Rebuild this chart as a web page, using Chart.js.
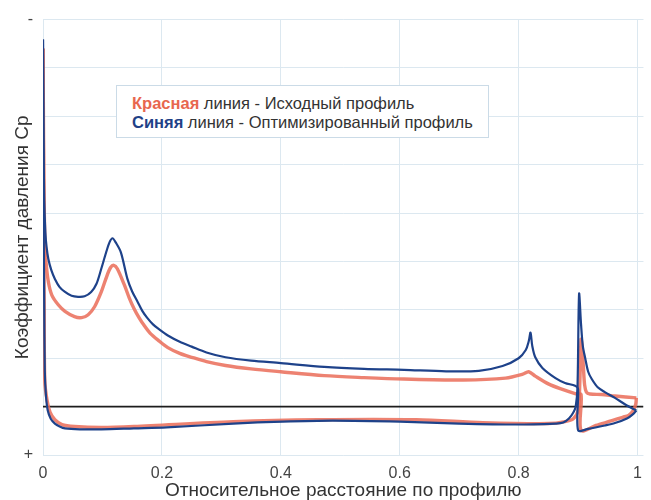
<!DOCTYPE html>
<html><head><meta charset="utf-8">
<script src="https://cdn.jsdelivr.net/npm/chart.js@4"></script>
<style>
html,body{margin:0;padding:0;background:#fff;overflow:hidden}
#wrap{position:relative;width:651px;height:500px}
#legend{position:absolute;left:116px;top:85px;width:373px;height:53px;border:1px solid #cbdbe7;background:#fff;box-sizing:border-box;font-family:"Liberation Sans",Arial,sans-serif;font-size:16.5px;line-height:19px;color:#333;padding:8px 0 0 15px;white-space:nowrap}
</style></head><body>
<div id="wrap"><canvas id="c" width="651" height="500"></canvas>
<div id="legend"><div><b style="color:#e8674f">Красная</b> линия - Исходный профиль</div><div><b style="color:#1f4187">Синяя</b> линия - Оптимизированный профиль</div></div></div>
<script>
const xTicks = [0, 0.2, 0.4, 0.6, 0.8, 1];
const xTitle = 'Относительное расстояние по профилю';
const yTitle = 'Коэффициент давления Cp';

// Blue (optimized) – upper branch
const blueUpperX  = [0, 0.001, 0.002, 0.004, 0.006, 0.009, 0.014, 0.020, 0.028, 0.037, 0.048, 0.059, 0.070, 0.081, 0.090, 0.098, 0.106, 0.112, 0.117, 0.122, 0.131, 0.142, 0.150, 0.159, 0.167, 0.175, 0.185, 0.195, 0.21, 0.23, 0.25, 0.275, 0.307, 0.35, 0.40, 0.473, 0.54, 0.607, 0.678, 0.733, 0.773, 0.80, 0.812, 0.817, 0.820, 0.823, 0.828, 0.84, 0.862, 0.878, 0.895, 0.90, 0.90, 0.917, 0.945, 0.962, 0.983, 0.993, 0.998];
const blueUpperCp = [-7.59, -5.5, -4.3, -3.6, -3.3, -3.05, -2.82, -2.64, -2.47, -2.37, -2.29, -2.27, -2.28, -2.37, -2.54, -2.85, -3.18, -3.40, -3.48, -3.40, -3.19, -2.64, -2.38, -2.17, -1.98, -1.84, -1.70, -1.60, -1.47, -1.34, -1.24, -1.12, -1.02, -0.95, -0.90, -0.82, -0.78, -0.76, -0.73, -0.74, -0.84, -1.00, -1.17, -1.35, -1.53, -1.25, -1.02, -0.80, -0.59, -0.49, -0.43, -0.37, 0.49, 0.46, 0.39, 0.34, 0.24, 0.15, 0.08];
// Blue – lower branch
const blueLowerX  = [0, 0.001, 0.002, 0.003, 0.005, 0.008, 0.013, 0.020, 0.028, 0.037, 0.062, 0.098, 0.153, 0.208, 0.32, 0.403, 0.487, 0.60, 0.70, 0.795, 0.862, 0.875, 0.885, 0.892, 0.896, 0.899, 0.9017, 0.905, 0.908, 0.912, 0.917, 0.923, 0.933, 0.945, 0.962, 0.98, 0.998];
const blueLowerCp = [-7.59, -4.2, -2.2, -0.74, -0.22, 0.08, 0.25, 0.35, 0.41, 0.45, 0.47, 0.47, 0.45, 0.43, 0.35, 0.31, 0.29, 0.31, 0.35, 0.37, 0.35, 0.33, 0.24, 0.12, 0.0, -0.4, -2.33, -1.7, -1.25, -1.0, -0.72, -0.57, -0.40, -0.30, -0.18, -0.04, 0.08];
// Red (original) – upper branch
const redUpperX  = [0, 0.001, 0.002, 0.003, 0.005, 0.009, 0.015, 0.026, 0.037, 0.053, 0.065, 0.076, 0.087, 0.098, 0.108, 0.114, 0.119, 0.125, 0.137, 0.145, 0.153, 0.162, 0.17, 0.18, 0.195, 0.21, 0.23, 0.25, 0.275, 0.307, 0.35, 0.40, 0.473, 0.54, 0.607, 0.707, 0.778, 0.807, 0.817, 0.828, 0.85, 0.87, 0.895, 0.905, 0.905, 0.93, 0.957, 0.975, 0.985, 0.993, 0.997, 0.998];
const redUpperCp = [-7.4, -5.5, -4.2, -3.5, -3.0, -2.58, -2.3, -2.10, -1.97, -1.86, -1.84, -1.90, -2.07, -2.37, -2.72, -2.88, -2.92, -2.85, -2.51, -2.25, -2.03, -1.83, -1.68, -1.52, -1.36, -1.22, -1.10, -1.02, -0.93, -0.85, -0.78, -0.72, -0.64, -0.60, -0.57, -0.55, -0.59, -0.67, -0.72, -0.63, -0.47, -0.37, -0.27, -0.25, 0.49, 0.39, 0.29, 0.22, 0.18, 0.08, -0.05, -0.18];
// Red – lower branch
const redLowerX  = [0, 0.001, 0.002, 0.003, 0.007, 0.012, 0.02, 0.032, 0.053, 0.098, 0.153, 0.32, 0.462, 0.628, 0.74, 0.85, 0.878, 0.892, 0.90, 0.903, 0.905, 0.907, 0.909, 0.911, 0.914, 0.92, 0.94, 0.962, 0.998];
const redLowerCp = [-7.4, -4.2, -2.17, -0.53, -0.12, 0.12, 0.27, 0.37, 0.41, 0.43, 0.41, 0.31, 0.27, 0.27, 0.33, 0.35, 0.31, 0.25, 0.08, -0.53, -1.39, -1.2, -0.8, -0.45, -0.30, -0.26, -0.25, -0.22, -0.18];
// Zero line
const zeroX  = [0, 1.01];
const zeroCp = [0, 0];

const pts = (xs, ys) => xs.map((x, i) => ({x, y: ys[i]}));
const FAM = "'Liberation Sans', Arial, sans-serif";
Chart.defaults.font.family = FAM;
const gridColor = '#dce8f0';
const BLUE = 'rgb(30,66,138)';
const RED = 'rgba(234,108,88,0.85)';

const line = (data, color, width, order, tension) => ({
  data, borderColor: color, borderWidth: width, showLine: true, pointRadius: 0,
  tension, fill: false, order
});

new Chart(document.getElementById('c'), {
  type: 'scatter',
  data: { datasets: [
    line(pts(blueUpperX, blueUpperCp), BLUE, 2.2, 1, 0.3),
    line(pts(blueLowerX, blueLowerCp), BLUE, 2.2, 1, 0.3),
    line(pts(redUpperX, redUpperCp), RED, 3.4, 2, 0.3),
    line(pts(redLowerX, redLowerCp), RED, 3.4, 2, 0.3),
    line(pts(zeroX, zeroCp), '#1d1d1d', 1.6, 3, 0)
  ]},
  options: {
    responsive: false, animation: false, devicePixelRatio: 1,
    layout: { padding: { top: 15, right: 2, left: 0, bottom: 0 } },
    plugins: { legend: { display: false }, tooltip: { enabled: false } },
    scales: {
      x: {
        type: 'linear', min: 0, max: 1.01,
        afterBuildTicks: s => { s.ticks = xTicks.map(v => ({ value: v })); },
        afterFit: s => { s.height = 45; },
        grid: { color: gridColor, drawTicks: false },
        border: { display: false },
        ticks: { padding: 9, color: '#444', font: { size: 16 }, callback: v => String(v) },
        title: { display: true, text: xTitle, color: '#333', font: { size: 19 }, padding: { top: 0, bottom: -2 } }
      },
      y: {
        type: 'linear', reverse: true, min: -8, max: 1,
        afterFit: s => { s.width = 43; },
        grid: { color: gridColor, drawTicks: false },
        border: { display: false },
        ticks: { stepSize: 1, padding: 10, color: '#444', font: { size: 16 },
                 callback: v => v === -8 ? '-' : (v === 1 ? '+' : '') },
        title: { display: true, text: yTitle, color: '#333', font: { size: 19 }, padding: { top: 11, bottom: 0 } }
      }
    }
  }
});
</script>
</body></html>
